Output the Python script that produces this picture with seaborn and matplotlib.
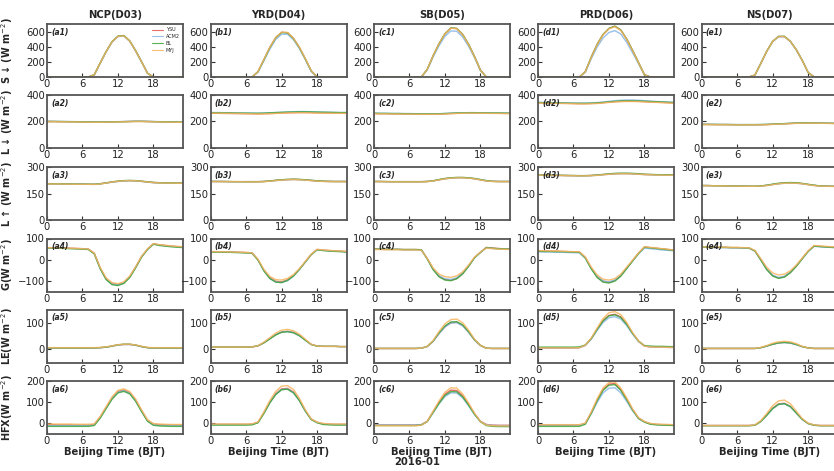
import numpy as np
import pandas as pd
import matplotlib
matplotlib.use("Agg")
import matplotlib.pyplot as plt
import seaborn as sns

hours = list(range(24))
models = ["YSU", "ACM2", "BL", "MYJ"]
regions = ["NCP(D03)", "YRD(D04)", "SB(D05)", "PRD(D06)", "NS(D07)"]
letters = ["a", "b", "c", "d", "e"]
ylabels = ["S \u2193 (W m$^{-2}$)", "L \u2193 (W m$^{-2}$)", "L \u2191 (W m$^{-2}$)",
           "G(W m$^{-2}$)", "LE(W m$^{-2}$)", "HFX(W m$^{-2}$)"]
ylims = [(0, 700), (0, 400), (0, 300), (-150, 100), (-50, 150), (-50, 200)]
yticks = [[0, 200, 400, 600], [0, 200, 400], [0, 150, 300], [-100, 0, 100], [0, 100], [0, 100, 200]]
xticks = [0, 6, 12, 18]
palette = {"YSU": "#e5534b", "ACM2": "#86b6e6", "BL": "#3aa63a", "MYJ": "#f7b45c"}

# ---- Row 1: downward shortwave (order: YSU, ACM2, BL, MYJ)
NCP_SWD = [[0,0,0,0,0,0,0,0,30,185,335,465,538,545,475,345,200,50,0,0,0,0,0,0],
           [0,0,0,0,0,0,0,0,29,182,331,460,533,540,470,341,197,49,0,0,0,0,0,0],
           [0,0,0,0,0,0,0,0,30,186,337,467,540,548,477,347,201,50,0,0,0,0,0,0],
           [0,0,0,0,0,0,0,0,30,185,335,464,537,544,474,344,199,50,0,0,0,0,0,0]]
YRD_SWD = [[0,0,0,0,0,0,0,0,70,230,390,520,590,585,510,390,240,80,0,0,0,0,0,0],
           [0,0,0,0,0,0,0,0,65,215,368,498,565,565,492,375,230,75,0,0,0,0,0,0],
           [0,0,0,0,0,0,0,0,70,228,388,518,588,583,508,388,238,80,0,0,0,0,0,0],
           [0,0,0,0,0,0,0,0,72,232,392,522,592,588,512,392,242,82,0,0,0,0,0,0]]
SB_SWD = [[0,0,0,0,0,0,0,0,0,100,280,440,570,645,640,560,430,270,90,0,0,0,0,0],
          [0,0,0,0,0,0,0,0,0,94,264,414,538,608,604,528,405,255,85,0,0,0,0,0],
          [0,0,0,0,0,0,0,0,0,100,281,441,572,648,642,562,432,272,91,0,0,0,0,0],
          [0,0,0,0,0,0,0,0,0,99,280,441,570,644,639,558,428,268,89,0,0,0,0,0]]
PRD_SWD = [[0,0,0,0,0,0,0,0,70,260,430,560,640,670,620,500,350,190,30,0,0,0,0,0],
           [0,0,0,0,0,0,0,0,64,240,395,515,588,612,568,458,320,174,28,0,0,0,0,0],
           [0,0,0,0,0,0,0,0,70,262,432,562,642,672,622,502,352,192,30,0,0,0,0,0],
           [0,0,0,0,0,0,0,0,70,258,428,558,637,665,617,497,347,188,30,0,0,0,0,0]]
NS_SWD = [[0,0,0,0,0,0,0,0,0,25,180,340,470,535,535,470,360,220,60,0,0,0,0,0],
          [0,0,0,0,0,0,0,0,0,24,178,337,466,530,531,466,357,218,59,0,0,0,0,0],
          [0,0,0,0,0,0,0,0,0,25,181,341,471,537,537,471,361,221,60,0,0,0,0,0],
          [0,0,0,0,0,0,0,0,0,25,180,340,469,534,534,469,359,219,60,0,0,0,0,0]]

# ---- Row 2: downward longwave
NCP_LWD = [[200,200,199,199,198,198,197,196,195,195,196,197,198,199,200,201,201,200,199,198,197,196,195,195],
           [201,201,200,200,199,199,198,197,196,196,197,198,199,200,201,202,202,201,200,199,198,197,196,196],
           [200,200,200,199,199,198,198,197,196,196,196,197,198,199,200,201,201,200,199,198,197,197,196,196],
           [199,199,198,198,197,197,196,195,194,194,195,196,197,198,199,200,200,199,198,197,196,195,194,194]]
YRD_LWD = [[262,262,261,261,260,260,259,259,258,259,260,262,264,266,267,268,268,267,266,265,264,264,263,262],
           [268,268,267,266,266,265,264,264,263,264,266,268,270,272,274,275,275,274,272,271,270,269,268,268],
           [266,266,265,265,264,263,263,262,262,263,265,267,269,271,272,273,273,272,271,270,269,268,267,267],
           [263,263,262,261,261,260,259,258,257,258,259,261,263,265,266,266,266,265,264,263,263,262,262,261]]
SB_LWD = [[260,259,259,258,258,257,257,256,255,255,255,256,258,260,262,263,264,264,263,263,262,262,261,261],
          [263,262,262,261,261,260,260,259,258,258,258,259,261,263,265,266,267,267,266,266,265,265,264,264],
          [262,261,261,260,260,259,259,258,257,257,257,258,260,262,264,265,266,266,265,265,264,264,263,263],
          [259,258,258,257,257,256,256,255,254,254,254,255,257,259,261,262,263,263,262,262,261,261,260,260]]
PRD_LWD = [[342,341,340,339,338,337,336,335,335,336,338,342,346,350,352,353,353,352,350,348,346,344,342,340],
           [345,344,343,342,341,340,339,339,339,340,343,347,352,357,360,362,362,360,357,354,351,349,347,345],
           [343,342,341,340,339,338,337,337,337,338,340,344,348,352,355,356,356,355,353,351,349,347,345,343],
           [340,339,338,337,336,335,334,333,333,334,336,340,344,348,350,351,351,350,348,346,344,342,340,338]]
NS_LWD = [[178,178,177,177,177,176,176,176,176,176,176,177,179,181,183,185,187,188,189,189,188,187,186,185],
          [179,179,178,178,178,177,177,177,177,177,177,178,180,182,184,186,188,189,190,190,189,188,187,186],
          [178,178,178,177,177,177,176,176,176,176,177,178,180,182,184,186,188,189,190,189,188,187,186,186],
          [177,177,176,176,176,175,175,175,175,175,175,176,178,180,182,184,186,187,188,188,187,186,185,184]]

# ---- Row 3: upward longwave
NCP_LWU = [[205,205,204,204,203,203,203,202,202,205,210,215,219,222,223,222,219,215,212,211,210,210,209,209],
           [205,205,204,204,203,203,203,202,202,205,209,214,218,221,222,221,218,214,211,210,209,209,208,208],
           [206,205,205,204,204,203,203,203,202,205,210,216,220,223,224,223,220,216,213,211,210,210,209,209],
           [205,204,204,203,203,202,202,202,201,204,209,215,219,222,223,222,219,215,212,210,209,209,208,208]]
YRD_LWU = [[218,218,218,217,217,217,217,217,217,218,221,224,227,229,230,229,227,224,221,219,218,218,218,218],
           [218,218,218,217,217,217,217,217,217,218,220,223,226,228,229,228,226,223,220,219,218,218,218,218],
           [219,218,218,218,217,217,217,217,217,218,221,225,228,230,231,230,228,225,222,220,219,218,218,218],
           [218,218,217,217,217,217,216,216,216,217,220,223,226,228,229,228,226,223,220,218,218,217,217,217]]
SB_LWU = [[218,218,217,217,217,217,217,217,217,218,222,228,234,238,240,240,238,234,228,222,219,218,218,218],
          [218,218,217,217,217,217,217,217,217,218,221,227,233,237,239,239,237,233,227,221,219,218,218,218],
          [218,218,218,217,217,217,217,217,217,218,222,229,235,239,241,241,239,235,229,223,219,218,218,218],
          [217,217,217,216,216,216,216,216,216,217,221,227,233,237,239,239,237,233,227,221,218,217,217,217]]
PRD_LWU = [[255,254,253,253,252,252,251,251,251,252,254,257,260,262,263,263,262,260,258,257,256,256,255,255],
           [254,253,253,252,252,251,251,250,250,251,253,256,259,261,262,262,261,259,257,256,255,255,254,254],
           [255,255,254,253,253,252,252,251,251,252,255,258,261,264,265,265,264,262,259,258,257,256,256,255],
           [254,254,253,252,252,251,251,250,250,251,253,256,259,261,262,262,261,259,257,256,255,254,254,253]]
NS_LWU = [[195,195,194,194,193,193,192,192,191,191,192,196,201,206,209,210,209,206,201,196,193,192,191,190],
          [195,195,194,194,193,193,192,192,191,191,192,196,201,205,208,209,208,205,200,196,193,192,191,190],
          [195,195,194,194,193,193,192,192,191,191,193,197,203,208,211,212,211,207,202,197,193,192,191,190],
          [195,194,194,193,193,192,192,191,191,191,192,195,200,205,208,209,208,205,200,195,192,191,190,190]]

# ---- Row 4: ground heat flux
NCP_G = [[57,56,56,55,54,53,52,50,30,-40,-90,-113,-118,-108,-80,-35,15,50,75,70,67,64,62,60],
         [56,55,55,54,53,52,51,49,29,-41,-91,-114,-119,-109,-81,-36,14,49,74,69,66,63,61,59],
         [55,54,54,53,52,51,50,48,27,-43,-94,-118,-122,-112,-84,-38,12,48,73,67,64,61,59,57],
         [57,56,56,55,54,53,52,50,31,-37,-86,-108,-113,-104,-77,-33,16,51,76,71,68,65,63,61]]
YRD_G = [[38,38,37,37,36,35,34,32,0,-50,-85,-102,-105,-95,-75,-45,-10,25,48,45,43,41,40,38],
         [37,37,36,36,35,34,33,31,-1,-52,-88,-105,-108,-98,-77,-46,-11,24,47,44,42,40,39,37],
         [36,36,35,35,34,33,32,30,-2,-53,-89,-106,-108,-98,-77,-46,-11,24,47,43,41,39,38,36],
         [38,38,37,37,36,35,34,32,2,-46,-79,-94,-96,-88,-70,-42,-8,26,49,46,44,42,41,39]]
SB_G = [[50,50,49,49,49,48,48,48,47,5,-45,-78,-93,-97,-88,-65,-30,10,35,58,55,53,51,50],
        [49,49,48,48,48,47,47,47,46,4,-44,-76,-90,-93,-85,-63,-29,10,35,56,53,51,50,49],
        [50,50,49,49,49,48,48,48,47,4,-47,-81,-96,-99,-90,-67,-31,9,34,57,54,52,51,50],
        [48,48,47,47,47,46,46,46,45,6,-39,-68,-80,-83,-76,-57,-25,12,36,55,52,50,49,48]]
PRD_G = [[42,41,40,40,39,38,37,36,10,-40,-80,-102,-107,-98,-75,-40,-5,30,60,57,54,51,48,45],
         [37,36,36,35,35,34,33,32,8,-41,-79,-100,-104,-96,-74,-40,-6,28,54,52,49,46,44,42],
         [40,39,39,38,38,37,36,35,8,-43,-84,-106,-110,-101,-78,-42,-6,29,59,56,53,50,47,44],
         [43,42,41,41,40,39,38,37,13,-35,-72,-92,-96,-89,-68,-35,-2,32,61,58,55,52,49,46]]
NS_G = [[60,59,59,58,58,57,57,56,55,42,0,-45,-75,-86,-80,-60,-30,5,40,65,63,61,59,58],
        [59,58,58,57,57,56,56,55,54,41,0,-44,-73,-84,-78,-59,-29,5,39,63,61,59,58,57],
        [60,59,59,58,58,57,57,56,55,41,-2,-47,-77,-88,-82,-61,-31,4,39,64,62,60,58,57],
        [61,60,60,59,59,58,58,57,56,44,5,-36,-62,-72,-68,-52,-25,8,42,67,65,63,61,60]]

# ---- Row 5: latent heat flux
NCP_LE = [[5,5,5,5,5,5,5,5,5,6,8,12,16,18,18,15,10,6,5,5,5,5,5,5],
          [5,5,5,5,5,5,5,5,5,6,8,12,16,18,18,15,10,6,5,5,5,5,5,5],
          [5,5,5,5,5,5,5,5,5,6,8,12,17,19,19,16,10,6,5,5,5,5,5,5],
          [6,6,6,6,6,6,6,6,6,7,9,13,17,19,19,16,11,7,6,6,6,6,6,6]]
YRD_LE = [[8,8,8,8,8,8,8,9,13,25,40,55,65,68,64,52,35,18,12,11,11,11,10,10],
          [8,8,8,8,8,8,8,9,13,25,40,55,65,67,63,51,35,18,12,11,11,11,10,10],
          [8,8,8,8,8,8,8,9,13,24,39,54,64,66,62,51,34,18,12,11,11,11,10,10],
          [8,8,8,8,8,8,8,9,13,27,44,61,72,75,70,57,38,19,12,11,11,11,10,10]]
SB_LE = [[3,3,3,3,3,3,3,3,4,10,30,60,85,100,102,90,65,35,14,4,3,3,3,3],
         [3,3,3,3,3,3,3,3,4,10,30,59,84,99,100,88,64,35,14,4,3,3,3,3],
         [3,3,3,3,3,3,3,3,4,11,31,62,88,103,104,92,66,36,15,4,3,3,3,3],
         [3,3,3,3,3,3,3,3,4,11,33,67,96,112,114,100,72,38,15,4,3,3,3,3]]
PRD_LE = [[5,5,5,5,5,5,5,6,15,40,75,108,128,132,122,95,60,30,12,9,8,8,7,7],
          [5,5,5,5,5,5,5,6,14,38,71,101,119,123,114,89,57,29,12,9,8,8,7,7],
          [8,8,8,8,8,8,8,9,16,40,75,107,126,130,120,94,60,31,14,12,11,11,10,10],
          [5,5,5,5,5,5,5,6,15,42,80,116,138,142,131,101,63,31,12,9,8,8,7,7]]
NS_LE = [[3,3,3,3,3,3,3,3,3,3,6,12,19,24,26,24,18,10,5,3,3,3,3,3],
         [3,3,3,3,3,3,3,3,3,3,6,12,19,24,25,23,17,10,5,3,3,3,3,3],
         [3,3,3,3,3,3,3,3,3,3,6,12,19,24,26,24,18,10,5,3,3,3,3,3],
         [3,3,3,3,3,3,3,3,3,3,7,14,23,28,30,28,21,11,5,3,3,3,3,3]]

# ---- Row 6: sensible heat flux
NCP_HFX = [[-6,-6,-7,-7,-7,-8,-8,-8,-5,30,75,120,150,157,145,110,60,15,-3,-6,-7,-8,-8,-8],
           [-10,-10,-10,-10,-10,-10,-10,-10,-7,28,73,117,147,154,142,107,58,13,-6,-9,-10,-10,-10,-10],
           [-14,-14,-14,-14,-14,-14,-14,-14,-10,25,70,114,144,151,139,104,55,10,-9,-12,-13,-14,-14,-14],
           [-3,-3,-3,-3,-3,-4,-4,-4,-2,33,79,125,156,163,150,114,63,17,-1,-3,-4,-5,-5,-5]]
YRD_HFX = [[-5,-5,-5,-5,-5,-5,-5,-4,5,50,100,140,163,165,148,110,60,20,5,-2,-4,-5,-5,-5],
           [-5,-5,-5,-5,-5,-5,-5,-4,5,49,98,137,160,162,145,108,59,19,5,-2,-4,-5,-5,-5],
           [-8,-8,-8,-8,-8,-8,-8,-7,3,47,97,136,159,161,144,107,58,18,3,-5,-7,-8,-8,-8],
           [-3,-3,-3,-3,-3,-3,-3,-2,7,54,108,151,176,178,160,118,64,21,6,0,-2,-3,-3,-3]]
SB_HFX = [[-8,-8,-8,-8,-8,-8,-8,-8,-6,10,55,100,138,157,155,130,90,45,10,-5,-8,-9,-9,-9],
          [-8,-8,-8,-8,-8,-8,-8,-8,-6,9,50,92,127,144,143,120,83,42,9,-6,-9,-10,-10,-10],
          [-10,-10,-10,-10,-10,-10,-10,-10,-8,8,52,95,132,150,149,125,86,43,8,-10,-14,-15,-15,-15],
          [-11,-11,-11,-11,-11,-11,-11,-11,-9,9,57,106,147,168,166,139,96,48,9,-8,-11,-12,-12,-12]]
PRD_HFX = [[-8,-8,-8,-8,-8,-8,-8,-8,0,50,110,160,185,188,160,115,65,25,8,-2,-5,-6,-7,-8],
           [-8,-8,-8,-8,-8,-8,-8,-8,-1,45,99,144,166,168,144,104,59,23,7,-2,-5,-6,-7,-8],
           [-14,-14,-14,-14,-14,-14,-14,-14,-4,47,107,156,180,183,156,112,63,23,6,-4,-7,-8,-9,-10],
           [-6,-6,-6,-6,-6,-6,-6,-6,2,53,116,167,193,196,167,120,68,27,9,0,-3,-4,-5,-6]]
NS_HFX = [[-10,-10,-10,-10,-10,-10,-10,-10,-10,-8,10,40,72,92,95,80,50,20,0,-8,-10,-10,-10,-10],
          [-10,-10,-10,-10,-10,-10,-10,-10,-10,-8,9,38,69,89,92,78,49,19,0,-8,-10,-10,-10,-10],
          [-11,-11,-11,-11,-11,-11,-11,-11,-11,-9,9,38,70,90,93,79,49,19,-1,-9,-11,-11,-11,-11],
          [-10,-10,-10,-10,-10,-10,-10,-10,-10,-7,13,47,84,106,110,93,58,23,1,-7,-10,-10,-10,-10]]

rows = [
    [NCP_SWD, YRD_SWD, SB_SWD, PRD_SWD, NS_SWD],
    [NCP_LWD, YRD_LWD, SB_LWD, PRD_LWD, NS_LWD],
    [NCP_LWU, YRD_LWU, SB_LWU, PRD_LWU, NS_LWU],
    [NCP_G, YRD_G, SB_G, PRD_G, NS_G],
    [NCP_LE, YRD_LE, SB_LE, PRD_LE, NS_LE],
    [NCP_HFX, YRD_HFX, SB_HFX, PRD_HFX, NS_HFX],
]

sns.set_style("ticks")
plt.rcParams["font.family"] = ["DejaVu Sans"]

W, H = 834, 471
fig = plt.figure(figsize=(W / 100, H / 100), dpi=100)

col_left = [47, 210.7, 374, 538, 701.7]
row_top = [24, 95, 167, 238.5, 309.5, 381]
aw, ah = 136, 53
spine_col = "#555555"

for r in range(6):
    for c in range(5):
        ax = fig.add_axes([col_left[c] / W, 1 - (row_top[r] + ah) / H, aw / W, ah / H])
        data = rows[r][c]
        df = pd.DataFrame({
            "hour": hours * 4,
            "val": [v for series in data for v in series],
            "model": [m for m in models for _ in hours],
        })
        show_leg = (r == 0 and c == 0)
        sns.lineplot(data=df, x="hour", y="val", hue="model", hue_order=models,
                     palette=palette, ax=ax, linewidth=1.0, alpha=0.85,
                     legend=show_leg, errorbar=None)
        ax.set_xlim(0, 23)
        ax.set_ylim(*ylims[r])
        ax.set_xticks(xticks)
        ax.set_yticks(yticks[r])
        ax.tick_params(direction="in", length=3, width=0.8, labelsize=7.2, pad=1.5,
                       colors="#333333", labelcolor="#222222")
        for s in ax.spines.values():
            s.set_color(spine_col)
            s.set_linewidth(1.3)
        ax.set_xlabel("")
        ax.set_ylabel("")
        ax.text(0.03, 0.93, f"({letters[c]}{r + 1})", transform=ax.transAxes,
                fontsize=5.5, fontweight="bold", fontstyle="italic", va="top", ha="left")
        if r == 0:
            ax.set_title(regions[c], fontsize=7.2, fontweight="bold", pad=4)
        if c == 0:
            ax.set_ylabel(ylabels[r], fontsize=7, fontweight="bold")
            ax.yaxis.set_label_coords(-0.235, 0.5)
        if r == 5:
            ax.set_xlabel("Beijing Time (BJT)", fontsize=7.2, fontweight="bold", labelpad=1)
        if show_leg:
            leg = ax.legend(loc="upper right", fontsize=3.5, frameon=False,
                            handlelength=2.2, labelspacing=0.35, borderaxespad=0.3,
                            handletextpad=0.6)
            for line in leg.get_lines():
                line.set_linewidth(0.8)

fig.text(417 / W, 1 - 462 / H, "2016-01", ha="center", va="center",
         fontsize=7.2, fontweight="bold")

fig.savefig("out.png", dpi=100)
